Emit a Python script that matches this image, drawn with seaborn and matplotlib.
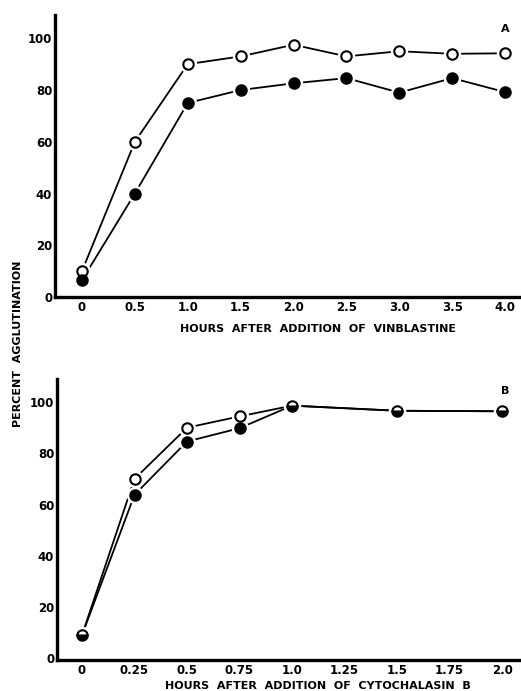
import matplotlib
matplotlib.use("Agg")
import matplotlib.pyplot as plt
import seaborn as sns
import numpy as np
import pandas as pd

# Panel A: vinblastine
hours_a = [0, 0.5, 1.0, 1.5, 2.0, 2.5, 3.0, 3.5, 4.0]
open_a = [10, 60, 90, 93, 97.5, 93, 95, 94, 94.2]
filled_a = [6.5, 40, 75, 80, 82.6, 84.6, 79, 84.6, 79.2]
xticks_a = [0, 0.5, 1.0, 1.5, 2.0, 2.5, 3.0, 3.5, 4.0]
xticklabels_a = ["0", "0.5", "1.0", "1.5", "2.0", "2.5", "3.0", "3.5", "4.0"]

# Panel B: cytochalasin B
hours_b = [0, 0.25, 0.5, 0.75, 1.0, 1.5, 2.0]
open_b = [9, 70, 90, 94.4, 98.6, 96.6, 96.4]
filled_b = [9, 63.8, 84.6, 89.8, 98.6, 96.6, 96.4]
xticks_b = [0, 0.25, 0.5, 0.75, 1.0, 1.25, 1.5, 1.75, 2.0]
xticklabels_b = ["0", "0.25", "0.5", "0.75", "1.0", "1.25", "1.5", "1.75", "2.0"]

yticks = [0, 20, 40, 60, 80, 100]

sns.set_style("white")
plt.rcParams['font.family'] = ['DejaVu Sans']
plt.rcParams['text.color'] = 'black'

fig = plt.figure(figsize=(5.21, 6.91), dpi=100)
W, H = 521, 691

def make_ax(left_px, right_px, top_px, bottom_px):
    return fig.add_axes([left_px / W, 1 - bottom_px / H,
                         (right_px - left_px) / W, (bottom_px - top_px) / H])

ax_a = make_ax(55, 521, 15, 297)
ax_b = make_ax(57, 521, 379, 660)

def draw(ax, x, yo, yf, xlim, ylim, xticks, xticklabels):
    df = pd.DataFrame({"x": x, "open": yo, "filled": yf})
    sns.lineplot(data=df, x="x", y="open", ax=ax, color="black", lw=1.3,
                 estimator=None, sort=False)
    sns.lineplot(data=df, x="x", y="filled", ax=ax, color="black", lw=1.3,
                 estimator=None, sort=False)
    # white halos create the small gap between line and marker
    for col in ["open", "filled"]:
        ax.plot(df["x"], df[col], ls="none", marker="o", ms=11.5,
                mfc="white", mec="white", zorder=3)
    same = np.isclose(df["open"], df["filled"])
    ax.plot(df["x"][~same], df["open"][~same], ls="none", marker="o", ms=7.5,
            mfc="white", mec="black", mew=1.5, zorder=4)
    ax.plot(df["x"][~same], df["filled"][~same], ls="none", marker="o", ms=7.5,
            mfc="black", mec="black", mew=1.5, zorder=5)
    ax.plot(df["x"][same], df["filled"][same], ls="none", marker="o", ms=7.5,
            fillstyle="bottom", mfc="black", mfcalt="white", mec="black",
            mew=1.5, zorder=5)
    ax.set_xlim(*xlim)
    ax.set_ylim(*ylim)
    ax.set_xticks(xticks)
    ax.set_xticklabels(xticklabels)
    ax.set_yticks(yticks)
    ax.set_yticklabels([str(t) for t in yticks])
    ax.set_xlabel("")
    ax.set_ylabel("")
    for s in ["top", "right"]:
        ax.spines[s].set_visible(False)
    for s in ["left", "bottom"]:
        ax.spines[s].set_linewidth(2.4)
        ax.spines[s].set_color("black")
    ax.tick_params(axis="x", direction="in", length=7, width=2.2,
                   labelsize=8.5, pad=3, colors="black")
    ax.tick_params(axis="y", direction="in", length=6, width=2.2,
                   labelsize=8.5, pad=2, colors="black")
    for lab in ax.get_xticklabels() + ax.get_yticklabels():
        lab.set_fontweight("bold")

draw(ax_a, hours_a, open_a, filled_a, (-0.255, 4.15), (0, 109),
     xticks_a, xticklabels_a)
draw(ax_b, hours_b, open_b, filled_b, (-0.119, 2.09), (-0.7, 109),
     xticks_b, xticklabels_b)

fig.text(505 / W, 1 - 29 / H, "A", fontsize=8, fontweight="bold",
         ha="center", va="center", color="black")
fig.text(505 / W, 1 - 391 / H, "B", fontsize=8, fontweight="bold",
         ha="center", va="center", color="black")
fig.text(318 / W, 1 - 329 / H, "HOURS  AFTER  ADDITION  OF  VINBLASTINE",
         fontsize=8, fontweight="bold", ha="center", va="center", color="black")
fig.text(318 / W, 1 - 686 / H, "HOURS  AFTER  ADDITION  OF  CYTOCHALASIN  B",
         fontsize=8, fontweight="bold", ha="center", va="center", color="black")
fig.text(18 / W, 1 - 344 / H, "PERCENT  AGGLUTINATION", fontsize=8,
         fontweight="bold", rotation=90, ha="center", va="center", color="black")

fig.savefig("out.png", dpi=100)
